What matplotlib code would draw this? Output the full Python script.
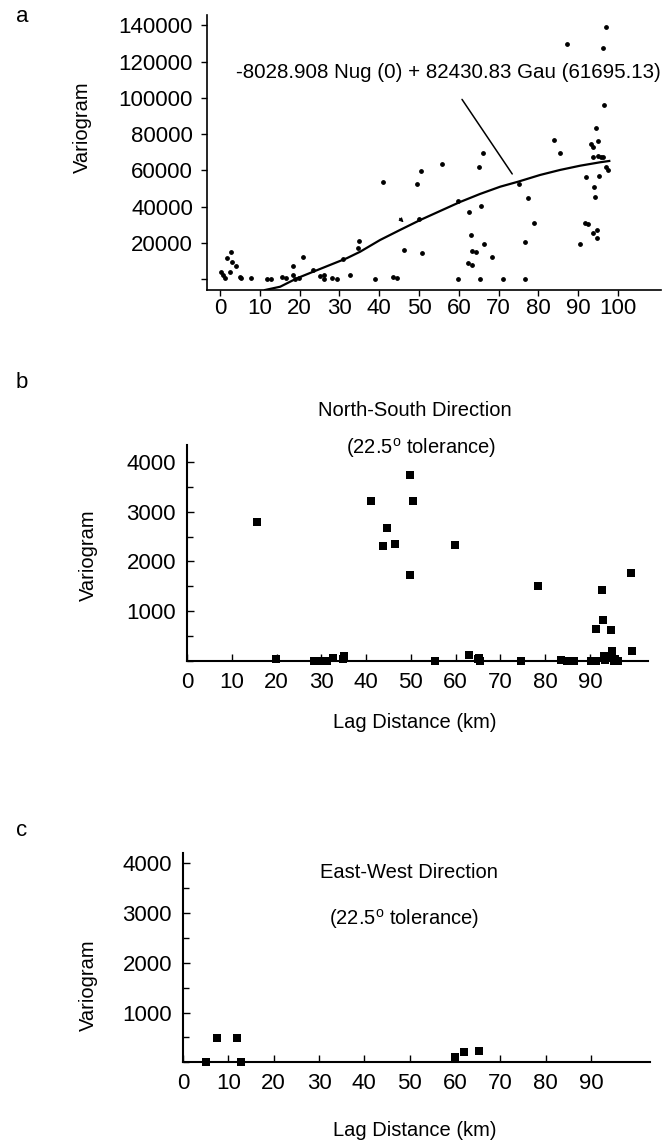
import numpy as np
import matplotlib
matplotlib.use("Agg")
import matplotlib.pyplot as plt
from matplotlib.ticker import MultipleLocator

plt.rcParams['font.family'] = ['Liberation Sans', 'DejaVu Sans']

# panel a: experimental variogram points
a_lag = [0.2, 0.8, 1.3, 1.8, 2.5, 2.8, 2.9, 4.0, 5.0, 5.3,
         7.7, 11.9, 12.7, 15.5, 16.6, 18.2, 18.4, 18.8, 19.7, 20.8,
         23.3, 25.1, 26.0, 26.1, 28.1, 29.3, 31.0, 32.7, 34.7, 34.9,
         38.9, 41.0, 43.5, 44.4, 46.2, 49.6, 49.9, 50.4, 50.7, 55.7,
         59.9, 59.9, 62.3, 62.6, 63.1, 63.4, 63.4, 64.2, 65.1, 65.3,
         65.6, 66.0, 66.4, 68.4, 71.2, 75.0, 76.5, 76.5, 77.3, 78.8,
         84.0, 85.3, 87.2, 90.5, 91.7, 91.9, 92.5, 93.2, 93.6, 93.6,
         93.8, 94.0, 94.3, 94.4, 94.6, 94.8, 94.9, 95.0, 95.3, 95.6,
         96.1, 96.1, 96.5, 97.1, 97.1, 97.4]
a_gamma = [4000, 2200, 400, 11800, 3700, 15100, 9200, 7200, 1300, 700,
           400, 0, 0, 900, 400, 7400, 2200, 0, 400, 12000,
           5000, 1700, 0, 2200, 400, 0, 11200, 2200, 16900, 21100,
           0, 53700, 1300, 700, 16000, 52400, 33000, 59800, 14500, 63500,
           43000, 0, 8700, 36800, 24300, 15600, 7700, 15100, 61700, 0,
           40300, 69700, 19500, 12000, 0, 52400, 20600, 0, 44900, 30900,
           76500, 69600, 129900, 19500, 31100, 56100, 30400, 74500, 67500, 25600,
           73000, 50600, 45400, 83400, 26900, 22800, 76200, 67900, 56900, 67500,
           67200, 127500, 95900, 138900, 62000, 60200]

# fitted model curve
model_lag = [11.3, 15.1, 19.3, 23.4, 27.6, 31.8, 35.2, 40.2, 45.2, 50.3,
             55.3, 60.3, 65.3, 70.4, 74.9, 80.4, 85.4, 90.5, 95.5, 97.8]
model_gamma = [-6070, -4250, 390, 4030, 7730, 11430, 15070, 21530, 27050, 32570,
               37540, 42500, 46920, 50950, 53710, 57410, 60170, 62540, 64420, 65140]

# panel b: north-south
ns_lag = [15.7, 19.9, 28.3, 29.8, 31.3, 32.6, 34.8, 35.0, 41.1, 43.8,
          44.6, 46.5, 49.8, 49.9, 50.5, 55.5, 59.9, 63.1, 65.0, 65.2,
          65.5, 74.6, 78.5, 83.5, 84.8, 86.4, 90.2, 91.3, 91.3, 92.8,
          92.9, 93.1, 93.5, 94.2, 94.7, 95.0, 95.3, 95.7, 96.4, 99.3, 99.4]
ns_gamma = [2790, 35, 0, 0, 0, 45, 35, 100, 3225, 2305,
            2680, 2340, 3750, 1715, 3220, 0, 2335, 120, 35, 55,
            0, 0, 1510, 15, 0, 0, 0, 640, 0, 1430,
            825, 100, 15, 65, 605, 190, 0, 35, 0, 1755, 190]

# panel c: east-west
ew_lag = [5.1, 7.5, 11.8, 12.8, 59.9, 62.0, 65.3]
ew_gamma = [0, 490, 490, 0, 110, 215, 225]

W, H = 663, 1141
fig = plt.figure(figsize=(W / 100, H / 100), dpi=100)


def box(l, t, r, b):
    return [l / W, 1 - b / H, (r - l) / W, (b - t) / H]


def ftext(x, y, s, **kw):
    fig.text(x / W, 1 - y / H, s, ha='center', va='center', **kw)


TICK = 16
LAB = 14.5

# ---- panel a
ax = fig.add_axes(box(207, 15, 661, 290))
ax.scatter(a_lag, a_gamma, s=6, color='black', zorder=3, clip_on=False)
ax.plot(model_lag, model_gamma, color='black', lw=1.6)
ax.set_xlim(-3.3, 110.8)
ax.set_ylim(-6070, 145700)
ax.set_xticks(range(0, 101, 10))
ax.set_yticks(range(0, 140001, 20000))
ax.set_yticklabels([''] + [str(v) for v in range(20000, 140001, 20000)])
ax.tick_params(direction='out', length=4, width=1, labelsize=TICK, pad=6)
ax.tick_params(axis='x', pad=2)
for s in ['top', 'right']:
    ax.spines[s].set_visible(False)
for s in ['left', 'bottom']:
    ax.spines[s].set_linewidth(1.2)
ax.annotate('', xy=(73.8, 56700), xytext=(60.4, 100400),
            arrowprops=dict(arrowstyle='-', lw=1.1, color='black'))
ax.annotate('', xy=(46.6, 30200), xytext=(44.6, 34600),
            arrowprops=dict(arrowstyle='-|>', lw=0.8, color='black',
                            mutation_scale=6))
ftext(448, 72, '-8028.908 Nug (0) + 82430.83 Gau (61695.13)', fontsize=14.8)
ftext(82, 127, 'Variogram', fontsize=LAB, rotation=90)
ftext(22, 16, 'a', fontsize=16)

# ---- panels b and c
panels = [
    (box(187, 445, 648, 660.5), ns_lag, ns_gamma, 4345, 'North-South Direction',
     (415, 410), (421, 448), 555, 722, 'b', 382),
    (box(183, 853, 650, 1062.3), ew_lag, ew_gamma, 4203, 'East-West Direction',
     (409, 873), (404, 919), 985, 1130, 'c', 830),
]
for pos, xs, ys, ytop, title, tpos, spos, ylab_y, xlab_y, letter, let_y in panels:
    ax = fig.add_axes(pos)
    ax.scatter(xs, ys, s=28, marker='s', color='black', zorder=3,
               clip_on=False, linewidths=0)
    ax.set_xlim(0, 103)
    ax.set_ylim(0, ytop)
    ax.set_xticks(range(0, 91, 10))
    ax.set_yticks([1000, 2000, 3000, 4000])
    ax.yaxis.set_minor_locator(MultipleLocator(500))
    ax.tick_params(direction='in', length=5, width=1, labelsize=TICK, pad=8)
    ax.tick_params(which='minor', direction='in', length=4, width=1)
    for s in ['top', 'right']:
        ax.spines[s].set_visible(False)
    for s in ['left', 'bottom']:
        ax.spines[s].set_linewidth(1.5)
    ftext(tpos[0], tpos[1], title, fontsize=LAB)
    ftext(spos[0], spos[1], '(22.5$^\\mathregular{o}$ tolerance)', fontsize=LAB)
    ftext(88, ylab_y, 'Variogram', fontsize=LAB, rotation=90)
    ftext(415, xlab_y, 'Lag Distance (km)', fontsize=LAB)
    ftext(22, let_y, letter, fontsize=16)

fig.savefig('out.png', dpi=100)
